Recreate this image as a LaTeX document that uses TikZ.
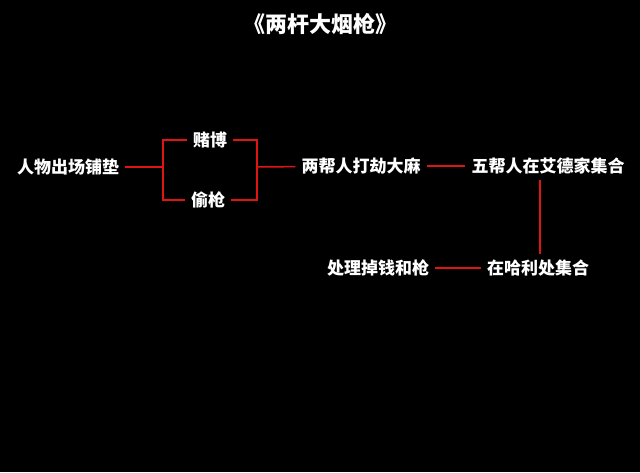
\documentclass[tikz,border=0pt]{standalone}
\usepackage{fontspec}
\newfontfamily\cjk{Noto Sans CJK SC}
\usetikzlibrary{positioning}
\definecolor{linkred}{RGB}{225,20,20}

\begin{document}
\begin{tikzpicture}[x=1pt,y=-1pt,
    lbl/.style={text=white,font=\cjk\bfseries\fontsize{17}{17}\selectfont,inner sep=6pt},
    link/.style={draw=linkred,line width=1.5pt}]
  \fill[black] (0,0) rectangle (640,472);
  \node[text=white,font=\cjk\bfseries\fontsize{22}{22}\selectfont] (title) at (320,24) {《两杆大烟枪》};
  % plot line
  \node[lbl] (intro) at (68,167) {人物出场铺垫};
  \node[lbl] (gamble) at (210,140) {赌博};
  \node[lbl] (gun) at (208,200) {偷枪};
  \node[lbl] (rob) at (361,166) {两帮人打劫大麻};
  \node[lbl] (meet) at (548,166) {五帮人在艾德家集合};
  \node[lbl] (harry) at (538,268) {在哈利处集合};
  \node[lbl] (dump) at (378,268) {处理掉钱和枪};
  \coordinate (splitL) at (163,167);
  \coordinate (splitR) at (257,167);
  \draw[link] (intro) -- (splitL);
  \draw[link] (gamble.west) -| (splitL) |- (gun.west);
  \draw[link] (gamble.east) -| (splitR) |- (gun.east);
  \draw[link] (splitR) -- (rob);
  \draw[link] (rob) -- (meet);
  \draw[link] (meet.south -| 540,0) -- (harry.north -| 540,0);
  \draw[link] (harry) -- (dump);
\end{tikzpicture}
\end{document}
